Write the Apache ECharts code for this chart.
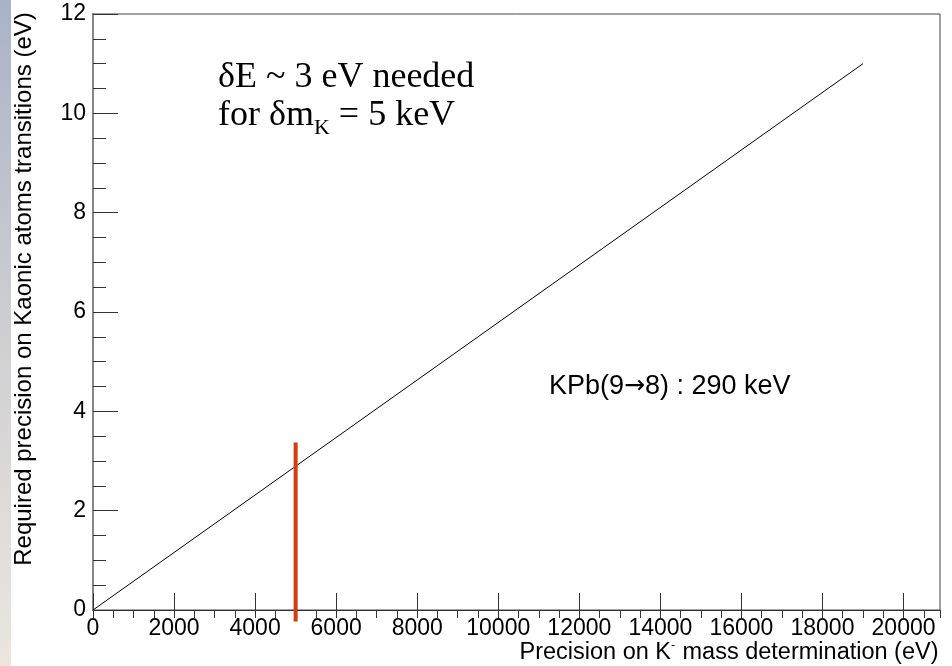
<!DOCTYPE html>
<html>
<head>
    <meta charset="UTF-8">
    <title>Kaonic atoms precision</title>
    <script src="https://cdn.jsdelivr.net/npm/echarts@6/dist/echarts.min.js"></script>
    <style>
        html, body { margin: 0; padding: 0; background: #fff; }
        #main { width: 952px; height: 666px; }
    </style>
</head>
<body>
    <div id="main"></div>
    <script>
        // values
        var massPrecision = [0, 19000];          // eV, x
        var transPrecision = [0, 11.0];          // eV, y
        var markX = [5000, 5000];                // red marker at dm_K = 5 keV
        var markY = [-0.23, 3.37];
        var xTicks = [0, 2000, 4000, 6000, 8000, 10000, 12000, 14000, 16000, 18000, 20000];
        var yTicks = [0, 2, 4, 6, 8, 10, 12];

        var sans = '"Liberation Sans", Arial, sans-serif';
        var serif = '"Liberation Serif", "Times New Roman", serif';

        function pairs(xs, ys) {
            var out = [];
            for (var i = 0; i < xs.length; i++) out.push([xs[i], ys[i]]);
            return out;
        }
        function plain(v) { return String(v); }

        var chart = echarts.init(document.getElementById('main'));
        var option = {
            backgroundColor: '#fff',
            animation: false,
            grid: {
                left: 93, right: 12, top: 14, bottom: 56,
                outerBoundsMode: 'none',
                containLabel: false,
                show: true, borderColor: '#444', borderWidth: 1
            },
            xAxis: [{
                type: 'value',
                min: xTicks[0], max: 20900, interval: 2000,
                axisLine: { lineStyle: { color: '#333', width: 1 } },
                axisTick: { inside: true, length: 17, lineStyle: { color: '#333' } },
                axisLabel: { fontFamily: sans, fontSize: 23, color: '#000', margin: 7, showMaxLabel: false, formatter: plain },
                splitLine: { show: false },
                name: '{a|Precision on K}{s|-}{a| mass determination (eV)}',
                nameLocation: 'middle',
                nameGap: 30,
                nameMoveOverlap: false,
                nameTextStyle: {
                    padding: [0, 0, 0, 425],
                    rich: {
                        a: { fontFamily: sans, fontSize: 23.5, color: '#000' },
                        s: { fontFamily: sans, fontSize: 12, color: '#000', padding: [0, 1, 13, 0] }
                    }
                }
            }, {
                type: 'value',
                min: xTicks[0], max: 20900, interval: 500,
                axisLine: { show: false },
                axisTick: { inside: true, length: 8, lineStyle: { color: '#333' } },
                axisLabel: { show: false },
                splitLine: { show: false }
            }],
            yAxis: [{
                type: 'value',
                min: yTicks[0], max: yTicks[yTicks.length - 1], interval: 2,
                axisLine: { show: true, lineStyle: { color: '#555', width: 1.5 } },
                axisTick: { inside: true, length: 25, lineStyle: { color: '#333' } },
                minorTick: { show: true, splitNumber: 4, length: 13, lineStyle: { color: '#333' } },
                axisLabel: { fontFamily: sans, fontSize: 23, color: '#000', margin: 7, formatter: plain },
                splitLine: { show: false },
                name: 'Required precision on Kaonic atoms transitions (eV)',
                nameLocation: 'middle',
                nameRotate: 90,
                nameGap: 57,
                nameMoveOverlap: false,
                nameTextStyle: { fontFamily: sans, fontSize: 24, color: '#000', padding: [0, 0, 0, 46] }
            }, {
                type: 'value',
                position: 'right',
                min: yTicks[0], max: yTicks[yTicks.length - 1],
                axisLine: { show: true, lineStyle: { color: '#888', width: 2 } },
                axisTick: { show: false },
                axisLabel: { show: false },
                splitLine: { show: false }
            }],
            graphic: [{
                type: 'rect',
                left: 0, top: 0, z: -10,
                shape: { width: 11, height: 666 },
                style: {
                    fill: new echarts.graphic.LinearGradient(0, 0, 0, 1, [
                        { offset: 0, color: '#a9b3c6' },
                        { offset: 0.5, color: '#cfcfd2' },
                        { offset: 1, color: '#ece6df' }
                    ])
                }
            }, {
                type: 'text',
                left: 218, top: 60,
                style: { text: 'δE ~ 3 eV needed', font: '36px ' + serif, fill: '#000' }
            }, {
                type: 'text',
                left: 218, top: 98,
                style: {
                    text: '{a|for δm}{s|K}{a| = 5 keV}',
                    rich: {
                        a: { fontFamily: serif, fontSize: 36, color: '#000' },
                        s: { fontFamily: serif, fontSize: 22, color: '#000', padding: [24, 0, 0, 0] }
                    }
                }
            }, {
                type: 'text',
                left: 549, top: 373,
                style: {
                    text: '{a|KPb(9}{r|→}{a|8) : 290 keV}',
                    rich: {
                        a: { fontFamily: sans, fontSize: 27, color: '#000' },
                        r: { fontFamily: '"DejaVu Sans"', fontSize: 25, color: '#000' }
                    }
                }
            }],
            series: [{
                name: 'required precision',
                type: 'line',
                xAxisIndex: 0, yAxisIndex: 0,
                data: pairs(massPrecision, transPrecision),
                showSymbol: false,
                lineStyle: { color: '#000', width: 1 }
            }, {
                name: 'dm_K = 5 keV',
                type: 'line',
                xAxisIndex: 0, yAxisIndex: 0,
                clip: false,
                data: pairs(markX, markY),
                showSymbol: false,
                lineStyle: { color: '#d13b0e', width: 4 }
            }]
        };
        chart.setOption(option);
    </script>
</body>
</html>
